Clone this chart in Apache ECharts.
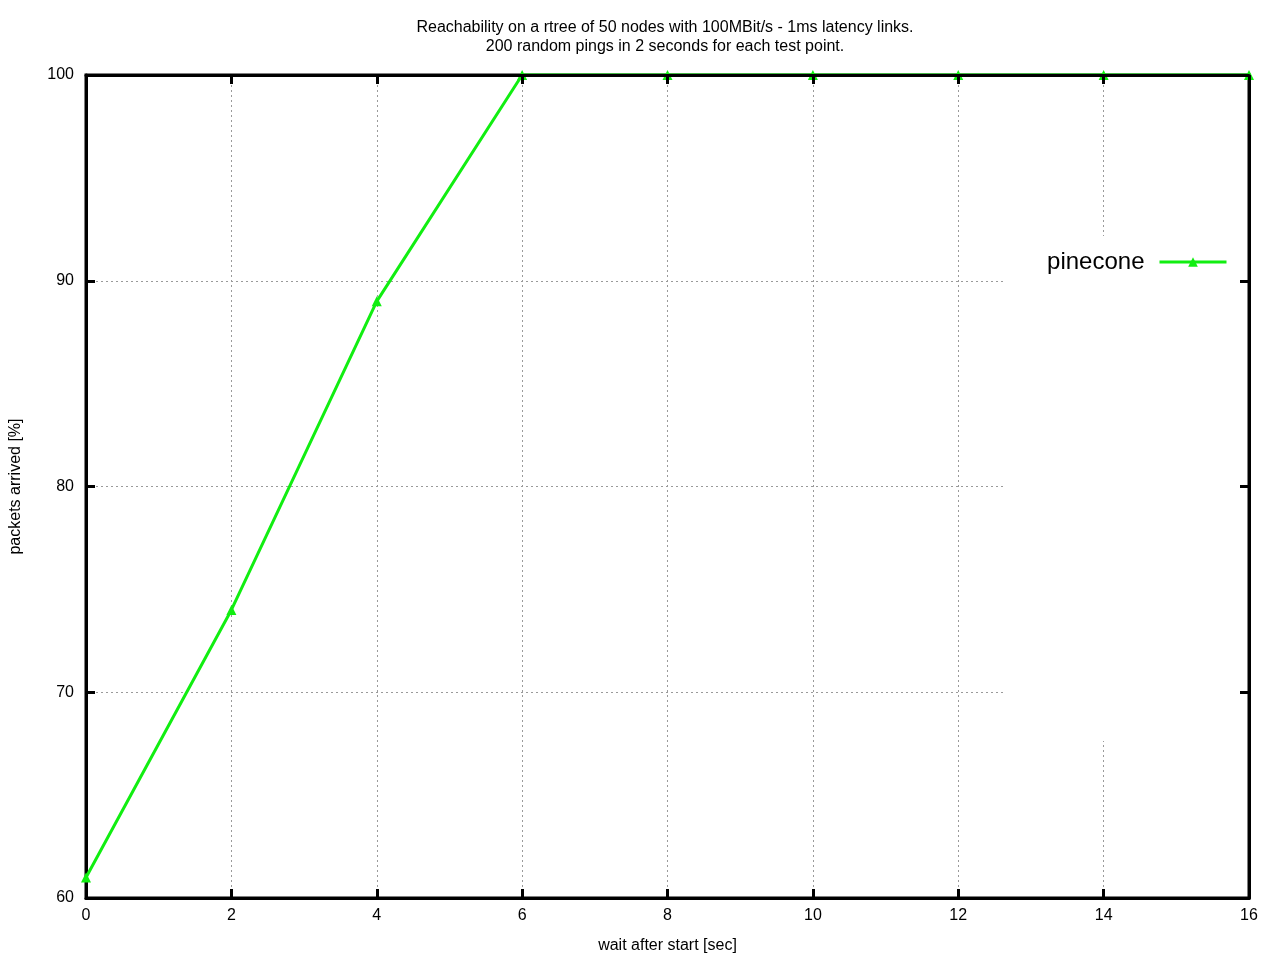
<!DOCTYPE html>
<html>
<head>
<meta charset="utf-8">
<script src="https://cdn.jsdelivr.net/npm/echarts@6/dist/echarts.min.js"></script>
<style>
html,body{margin:0;padding:0;background:#fff;}
#chart{width:1280px;height:960px;}
</style>
</head>
<body>
<div id="chart"></div>
<script>
const waitSec = [0, 2, 4, 6, 8, 10, 12, 14, 16];
const pineconeArrived = [61, 74, 89, 100, 100, 100, 100, 100, 100];
const xTicks = [0, 2, 4, 6, 8, 10, 12, 14, 16];
const yTicks = [60, 70, 80, 90, 100];
const titleText = 'Reachability on a rtree of 50 nodes with 100MBit/s - 1ms latency links.\n200 random pings in 2 seconds for each test point.';
const seriesName = 'pinecone';

const FONT = 'Liberation Sans, Arial, sans-serif';
const green = '#11ee11';
const chart = echarts.init(document.getElementById('chart'), null, {renderer: 'canvas'});

const gridDash = {color: '#9a9a9a', width: 1, type: [2, 3]};
const tickStyle = {color: '#000', width: 3};

chart.setOption({
  backgroundColor: '#fff',
  animation: false,
  title: {
    text: titleText,
    left: 660, top: 13, textAlign: 'center',
    textStyle: {fontFamily: FONT, fontSize: 16, fontWeight: 'normal', color: '#000', lineHeight: 19}
  },
  legend: {
    data: [seriesName],
    right: 47, top: 245,
    align: 'right',
    itemWidth: 67, itemHeight: 12,
    lineStyle: {width: 3},
    textStyle: {fontFamily: FONT, fontSize: 24, color: '#000', padding: [0, 10, 0, 0]}
  },
  grid: {left: 84, right: 31, top: 75, bottom: 62, show: true, borderColor: '#000', borderWidth: 3, backgroundColor: 'transparent'},
  graphic: [{
    type: 'rect', z: 1, silent: true,
    shape: {x: 1006, y: 236, width: 234, height: 505},
    style: {fill: '#fff'}
  }],
  xAxis: [{
    type: 'value', min: 0, max: 16, interval: 2,
    name: 'wait after start [sec]', nameLocation: 'middle', nameGap: 40,
    nameTextStyle: {fontFamily: FONT, fontSize: 16, color: '#000'},
    axisLine: {show: true, onZero: false, lineStyle: {color: '#000', width: 3}},
    axisTick: {show: true, inside: true, length: 9, lineStyle: tickStyle},
    axisLabel: {fontFamily: FONT, fontSize: 16, color: '#000', margin: 10,
      formatter: v => xTicks.includes(v) ? String(v) : ''},
    splitLine: {show: true, lineStyle: gridDash}
  }, {
    type: 'value', min: 0, max: 16, interval: 2, position: 'top', z: 5,
    axisLine: {show: true, onZero: false, lineStyle: {color: '#000', width: 3}},
    axisTick: {show: true, inside: true, length: 9, lineStyle: tickStyle},
    axisLabel: {show: false}, splitLine: {show: false}
  }],
  yAxis: [{
    type: 'value', min: 60, max: 100, interval: 10,
    name: 'packets arrived [%]', nameLocation: 'middle', nameGap: 62,
    nameTextStyle: {fontFamily: FONT, fontSize: 16, color: '#000'},
    axisLine: {show: true, onZero: false, lineStyle: {color: '#000', width: 3}},
    axisTick: {show: true, inside: true, length: 9, lineStyle: tickStyle},
    axisLabel: {fontFamily: FONT, fontSize: 16, color: '#000', margin: 12,
      formatter: v => yTicks.includes(v) ? String(v) : ''},
    splitLine: {show: true, lineStyle: gridDash}
  }, {
    type: 'value', min: 60, max: 100, interval: 10, position: 'right',
    axisLine: {show: true, onZero: false, lineStyle: {color: '#000', width: 3}},
    axisTick: {show: true, inside: true, length: 9, lineStyle: tickStyle},
    axisLabel: {show: false}, splitLine: {show: false}
  }],
  series: [{
    name: seriesName,
    type: 'line',
    z: 2,
    data: waitSec.map((x, i) => [x, pineconeArrived[i]]),
    symbol: 'triangle', symbolSize: 10, showSymbol: true,
    lineStyle: {color: green, width: 3},
    itemStyle: {color: green},
    clip: false
  }]
});
</script>
</body>
</html>
